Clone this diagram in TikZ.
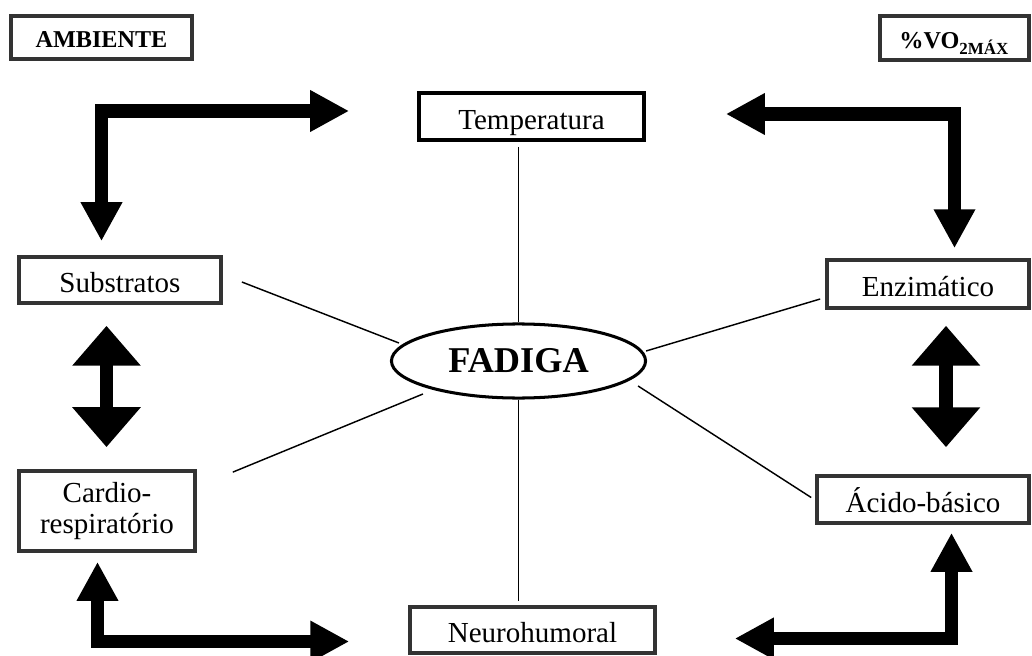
\documentclass[tikz,border=0pt]{standalone}
\usepackage{fontspec}
\setmainfont{Liberation Serif}
\usetikzlibrary{shapes.geometric,arrows.meta,calc}

\begin{document}
\begin{tikzpicture}[x=0.4132pt,y=-0.4132pt,
  box/.style={draw=black!80,line width=1.5pt,fill=white,inner sep=0pt,align=center,font=\fontsize{12}{13}\selectfont},
  onerow/.style={box,text height=10.6pt,text depth=0pt},
  tag/.style={box,text height=8.6pt,text depth=0pt,font=\fontsize{10}{12}\selectfont\bfseries},
  spoke/.style={line width=0.6pt},
  bigarrow/.style={line width=5.4pt,{Triangle[length=16.1pt,width=16.1pt]}-{Triangle[length=16.1pt,width=16.1pt]}},
  updown/.style={line width=5.6pt,{Triangle[length=16.5pt,width=27.3pt]}-{Triangle[length=16.5pt,width=27.3pt]}}]
\useasboundingbox (0,0) rectangle (1032,656);
\node [tag,minimum width=74.8pt,minimum height=17.8pt] (amb) at (101.5,37.5) {AMBIENTE};
\node [tag,minimum width=61.6pt,minimum height=18.2pt] (vo2) at (954.5,38) {\%VO\textsubscript{2MÁX}};
\node [onerow,draw=black,minimum width=93pt,minimum height=19.4pt] (temp) at (531.5,116.5) {Temperatura};
\node [onerow,minimum width=83.5pt,minimum height=19pt] (subs) at (120,280) {Substratos};
\node [onerow,minimum width=83.5pt,minimum height=19.8pt] (enz) at (928,284) {Enzimático};
\node [box,minimum width=72.7pt,minimum height=33.1pt] (cardio) at (107,511) {Cardio-\\respiratório};
\node [onerow,minimum width=87.6pt,minimum height=19.4pt] (acido) at (923,499.5) {Ácido-básico};
\node [onerow,minimum width=101.2pt,minimum height=19pt] (neuro) at (532.5,630) {Neurohumoral};
\node [ellipse,draw,line width=1.25pt,inner sep=0pt,minimum width=105pt,minimum height=30.6pt,
  font=\fontsize{15}{18}\selectfont\bfseries] (fad) at (518.5,361) {FADIGA};

\draw[spoke] ($(subs.east)+(19,2)$) -- ($(fad.west)+(9,-18)$);
\draw[spoke] ($(fad.east)+(-1,-10)$) -- ($(enz.west)+(-5,15)$);
\draw[spoke] ($(cardio.north east)+(36,3)$) -- ($(fad.west)+(33,33)$);
\draw[spoke] ($(fad.east)+(-9,25)$) -- ($(acido.west)+(-4,-2)$);
\draw[spoke] ($(temp.south)+(-13,5)$) -- (fad.north);
\draw[spoke] (fad.south) -- ($(neuro.north)+(-14,-4)$);

\draw[bigarrow] ($(temp.west)+(-68,-5.5)$) -| ($(subs.north)+(-18.5,-14)$);
\draw[bigarrow] ($(temp.east)+(80,-2.5)$) -| ($(enz.north)+(26.5,-10)$);
\draw[bigarrow] ($(cardio.south)+(-9.5,9)$) |- ($(neuro.west)+(-59,11.5)$);
\draw[bigarrow] ($(acido.south)+(28.5,8)$) |- ($(neuro.east)+(78,8.5)$);
\draw[updown] ($(subs.south)+(-13.5,21)$) -- ($(cardio.north)+(-0.5,-22)$);
\draw[updown] ($(enz.south)+(18,16)$) -- ($(acido.north)+(23,-27)$);
\end{tikzpicture}
\end{document}
